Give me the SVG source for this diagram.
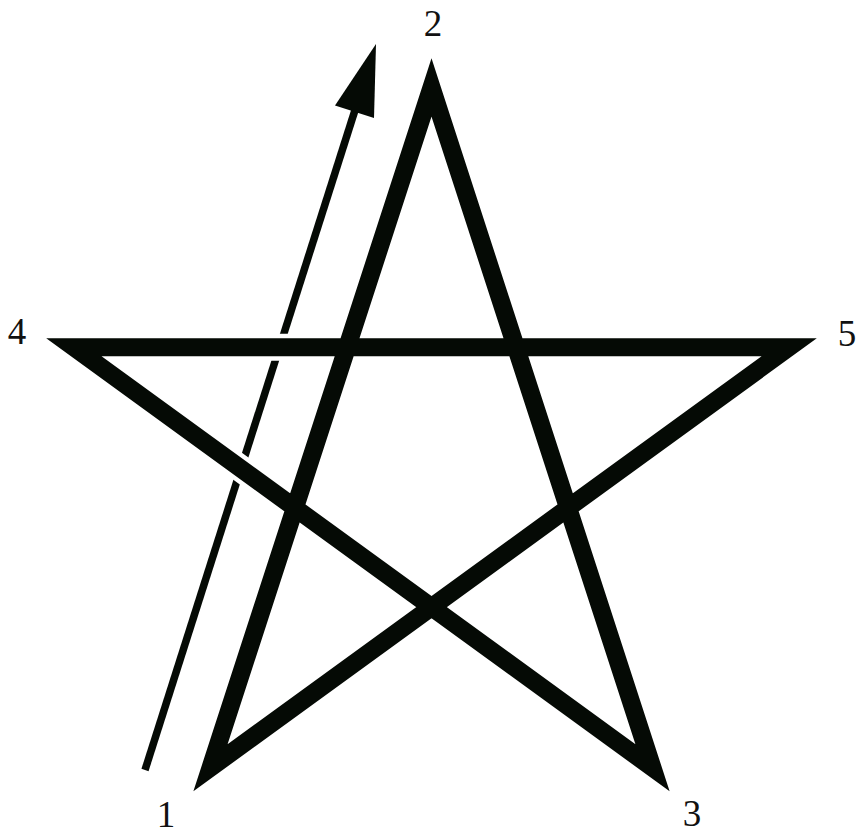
<svg xmlns="http://www.w3.org/2000/svg" width="859" height="837" viewBox="0 0 859 837">
  <style>
    .lbl { font-family: "Liberation Serif", "Times New Roman", serif; font-size: 37px; fill: #111; text-anchor: middle; }
    .halo { fill: none; stroke: #fff; stroke-width: 27; stroke-linejoin: miter; stroke-miterlimit: 10; }
    .star { fill: none; stroke: #050a05; stroke-width: 18; stroke-linejoin: miter; stroke-miterlimit: 10; }
    .arrow { fill: none; stroke: #050a05; stroke-width: 7.5; }
    .head { fill: #050a05; }
  </style>
  <rect width="859" height="837" fill="#fff"/>
  <g id="connectors">
    <g id="arrow">
      <line class="arrow" x1="145" y1="770" x2="356" y2="107"/>
      <polygon class="head" points="376,44 374,118 335,105.5"/>
    </g>
  </g>
  <g id="star">
    <path class="halo" d="M210.5,767.7 L431.5,87.5 L652.5,767.7 L73.9,347.3 L789.1,347.3 Z"/>
    <path class="star" d="M210.5,767.7 L431.5,87.5 L652.5,767.7 L73.9,347.3 L789.1,347.3 Z"/>
  </g>
  <g id="node-1"><text class="lbl" x="166" y="827">1</text></g>
  <g id="node-2"><text class="lbl" x="433" y="36">2</text></g>
  <g id="node-3"><text class="lbl" x="692" y="826">3</text></g>
  <g id="node-4"><text class="lbl" x="17" y="344">4</text></g>
  <g id="node-5"><text class="lbl" x="847" y="346">5</text></g>
</svg>
